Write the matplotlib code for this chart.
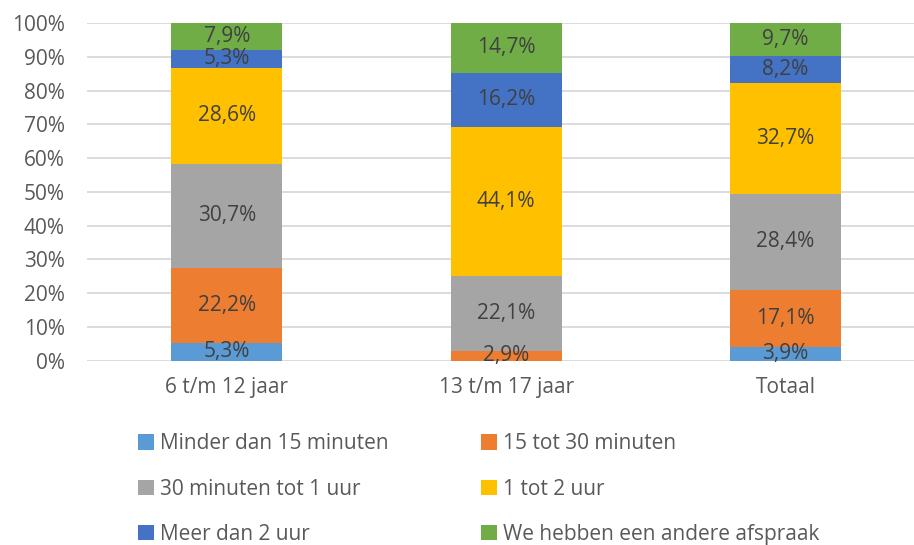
import matplotlib.pyplot as plt
import numpy as np

plt.rcParams['font.family'] = ['Open Sans', 'DejaVu Sans']

categories = ["6 t/m 12 jaar", "13 t/m 17 jaar", "Totaal"]
series = ["Minder dan 15 minuten", "15 tot 30 minuten", "30 minuten tot 1 uur",
          "1 tot 2 uur", "Meer dan 2 uur", "We hebben een andere afspraak"]
minder_15 = [5.3, 0.0, 3.9]
min_15_30 = [22.2, 2.9, 17.1]
min_30_60 = [30.7, 22.1, 28.4]
uur_1_2 = [28.6, 44.1, 32.7]
meer_2 = [5.3, 16.2, 8.2]
anders = [7.9, 14.7, 9.7]
values = [minder_15, min_15_30, min_30_60, uur_1_2, meer_2, anders]
colors = ["#5B9BD5", "#ED7D31", "#A5A5A5", "#FFC000", "#4472C4", "#70AD47"]

fig = plt.figure(figsize=(9.14, 5.45), dpi=100)
ax = fig.add_axes([0.0952, 0.3385, 0.9048, 0.6193])

x = np.arange(len(categories))
bottom = np.zeros(len(categories))
handles = []
for name, vals, col in zip(series, values, colors):
    vals = np.array(vals)
    b = ax.bar(x, vals, 0.397, bottom=bottom, color=col, label=name, zorder=3)
    handles.append(b)
    for xi, v, bt in zip(x, vals, bottom):
        if v > 0:
            ax.text(xi, bt + v / 2, f"{v:.1f}%".replace(".", ","), ha="center", va="center",
                    fontsize=15, color="#404040", zorder=4)
    bottom += vals

ax.set_xlim(-0.5, 2.46)
ax.set_ylim(0, 100)
ax.set_yticks(range(0, 101, 10))
ax.set_yticklabels([f"{t}%" for t in range(0, 101, 10)])
ax.set_xticks(x)
ax.set_xticklabels(categories)
ax.tick_params(axis="both", length=0, labelsize=15, labelcolor="#595959")
ax.tick_params(axis="x", pad=12)
ax.tick_params(axis="y", pad=16)
ax.yaxis.grid(True, color="#D9D9D9", linewidth=1.3, zorder=0)
for s in ax.spines.values():
    s.set_visible(False)

order = [0, 2, 4, 1, 3, 5]
leg = fig.legend([handles[i] for i in order], [series[i] for i in order], ncol=2,
                 loc="upper left", bbox_to_anchor=(0.151, 0.205), frameon=False,
                 fontsize=15, labelcolor="#595959", handlelength=0.75, handleheight=0.75,
                 handletextpad=0.3, columnspacing=4.45, labelspacing=1.17,
                 borderaxespad=0, borderpad=0)

fig.savefig("out.png", dpi=100)
